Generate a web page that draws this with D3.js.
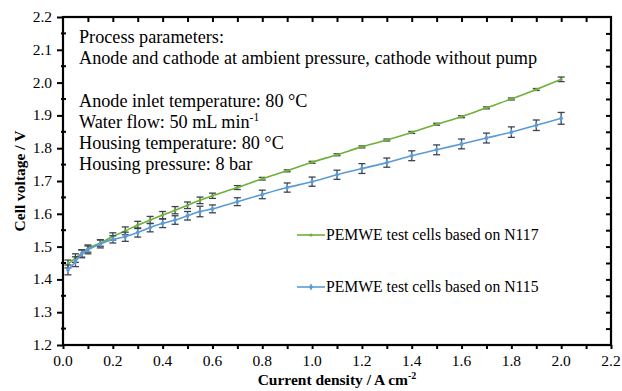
<!DOCTYPE html>
<html>
<head>
<meta charset="utf-8">
<script src="https://cdn.jsdelivr.net/npm/d3@7"></script>
</head>
<body style="margin:0">
<div id="chart"></div>
<script>
// current density (A cm-2) shared by both series
const currentDensity = [0.02, 0.05, 0.075, 0.1, 0.15, 0.2, 0.25, 0.3, 0.35, 0.4, 0.45, 0.5, 0.55, 0.6,
  0.7, 0.8, 0.9, 1.0, 1.1, 1.2, 1.3, 1.4, 1.5, 1.6, 1.7, 1.8, 1.9, 2.0];

const n117Voltage = [1.447, 1.465, 1.479, 1.494, 1.511, 1.531, 1.548, 1.566, 1.581, 1.596, 1.611, 1.626, 1.641, 1.655,
  1.680, 1.707, 1.731, 1.757, 1.780, 1.804, 1.825, 1.848, 1.873, 1.896, 1.923, 1.950, 1.979, 2.010];
const n117Error = [0.012, 0.013, 0.011, 0.011, 0.010, 0.011, 0.012, 0.011, 0.011, 0.011, 0.011, 0.010, 0.010, 0.008,
  0.006, 0.004, 0.003, 0.003, 0.003, 0.003, 0.003, 0.003, 0.003, 0.003, 0.003, 0.003, 0.003, 0.007];

const n115Voltage = [1.429, 1.454, 1.478, 1.490, 1.508, 1.522, 1.530, 1.543, 1.558, 1.571, 1.581, 1.594, 1.607, 1.615,
  1.637, 1.659, 1.680, 1.698, 1.719, 1.738, 1.756, 1.777, 1.795, 1.813, 1.831, 1.849, 1.870, 1.891];
const n115Error = [0.015, 0.015, 0.012, 0.012, 0.012, 0.011, 0.014, 0.014, 0.013, 0.013, 0.013, 0.013, 0.016, 0.012,
  0.012, 0.013, 0.014, 0.014, 0.014, 0.015, 0.014, 0.015, 0.015, 0.015, 0.015, 0.016, 0.016, 0.018];

const xTicks = [0.0, 0.2, 0.4, 0.6, 0.8, 1.0, 1.2, 1.4, 1.6, 1.8, 2.0, 2.2];
const yTicks = [1.2, 1.3, 1.4, 1.5, 1.6, 1.7, 1.8, 1.9, 2.0, 2.1, 2.2];

const seriesNames = ["PEMWE test cells based on N117", "PEMWE test cells based on N115"];
const infoLines = [
  "Process parameters:",
  "Anode and cathode at ambient pressure, cathode without pump",
  "",
  "Anode inlet temperature: 80 °C",
  "Water flow: 50 mL min|-1",
  "Housing temperature: 80 °C",
  "Housing pressure: 8 bar"
];

const width = 622, height = 391;
const marginLeft = 63, marginRight = 10, marginTop = 17, marginBottom = 46;
const green = "#6fb037", blue = "#5b9bd5", errColor = "#3d4350";
const serif = "'Liberation Serif'";

const svg = d3.select("#chart").append("svg")
  .attr("width", width).attr("height", height);

const x = d3.scaleLinear().domain([0, 2.2]).range([marginLeft, width - marginRight - 1]);
const y = d3.scaleLinear().domain([1.2, 2.2]).range([height - marginBottom, marginTop]);

const minorX = d3.range(0, 23).map(i => i / 10);
const minorY = d3.range(0, 21).map(i => 1.2 + i * 0.05);

// bottom axis
svg.append("g")
  .attr("transform", "translate(0," + y(1.2) + ")")
  .call(d3.axisBottom(x).tickValues(minorX).tickSize(4).tickFormat(""))
  .call(g => g.select(".domain").remove())
  .call(g => g.selectAll("line").attr("stroke", "#000").attr("stroke-width", 2));
svg.append("g").selectAll("text").data(xTicks).enter().append("text")
  .attr("x", d => x(d)).attr("y", y(1.2) + 21)
  .attr("text-anchor", "middle").style("font-family", serif).style("font-size", "15.5px")
  .text(d => d.toFixed(1));

// top axis (inward)
svg.append("g")
  .attr("transform", "translate(0," + y(2.2) + ")")
  .call(d3.axisTop(x).tickValues(minorX.slice(1, -1)).tickSize(-5).tickFormat(""))
  .call(g => g.select(".domain").remove())
  .call(g => g.selectAll("line").attr("stroke", "#000").attr("stroke-width", 2));

// left axis
svg.append("g")
  .attr("transform", "translate(" + x(0) + ",0)")
  .call(d3.axisLeft(y).tickValues(yTicks).tickSize(6).tickFormat(""))
  .call(g => g.select(".domain").remove())
  .call(g => g.selectAll("line").attr("stroke", "#000").attr("stroke-width", 2));
svg.append("g").selectAll("line").data(minorY.filter((d, i) => i % 2 === 1)).enter().append("line")
  .attr("x1", x(0) - 2).attr("x2", x(0) + 3)
  .attr("y1", d => y(d)).attr("y2", d => y(d))
  .attr("stroke", "#000").attr("stroke-width", 2);
svg.append("g").selectAll("text").data(yTicks).enter().append("text")
  .attr("x", x(0) - 11).attr("y", d => y(d) + 5)
  .attr("text-anchor", "end").style("font-family", serif).style("font-size", "15.5px")
  .text(d => d.toFixed(1));

// right axis (inward)
svg.append("g")
  .attr("transform", "translate(" + x(2.2) + ",0)")
  .call(d3.axisRight(y).tickValues(minorY.slice(1, -1)).tickSize(-5).tickFormat(""))
  .call(g => g.select(".domain").remove())
  .call(g => g.selectAll("line").attr("stroke", "#000").attr("stroke-width", 2));

// frame
svg.append("rect")
  .attr("x", x(0)).attr("y", y(2.2))
  .attr("width", x(2.2) - x(0)).attr("height", y(1.2) - y(2.2))
  .attr("fill", "none").attr("stroke", "#000").attr("stroke-width", 2.2);

// axis titles
const xTitle = svg.append("text")
  .attr("x", (x(0) + x(2.2)) / 2).attr("y", 385)
  .attr("text-anchor", "middle").style("font-family", serif)
  .style("font-size", "15.5px").style("font-weight", "bold");
xTitle.append("tspan").text("Current density / A cm");
xTitle.append("tspan").attr("dy", -6).style("font-size", "10px").text("-2");

svg.append("text")
  .attr("transform", "translate(25," + ((y(1.2) + y(2.2)) / 2) + ") rotate(-90)")
  .attr("text-anchor", "middle").style("font-family", serif)
  .style("font-size", "15.5px").style("font-weight", "bold")
  .text("Cell voltage / V");

// info text
const info = svg.append("g");
infoLines.forEach((line, i) => {
  if (!line) return;
  const t = info.append("text").attr("x", 79).attr("y", 43 + i * 21.2)
    .style("font-family", serif).style("font-size", "18.2px");
  const parts = line.split("|");
  t.append("tspan").text(parts[0]);
  if (parts[1]) t.append("tspan").attr("dy", -7).style("font-size", "11.5px").text(parts[1]);
});

// series
const series = [
  { name: seriesNames[0], values: n117Voltage, errors: n117Error, color: green, legendY: 235 },
  { name: seriesNames[1], values: n115Voltage, errors: n115Error, color: blue, legendY: 287 }
];

const line = d3.line()
  .x(d => x(d.x)).y(d => y(d.v))
  .curve(d3.curveCatmullRom.alpha(0.5));

series.forEach((s, k) => {
  const pts = currentDensity.map((c, i) => ({ x: c, v: s.values[i], e: s.errors[i] }));

  const eb = svg.append("g").attr("stroke", errColor).attr("stroke-width", 1.3);
  eb.selectAll(".v").data(pts).enter().append("line")
    .attr("x1", d => x(d.x)).attr("x2", d => x(d.x))
    .attr("y1", d => y(d.v - d.e)).attr("y2", d => y(d.v + d.e));
  eb.selectAll(".t").data(pts).enter().append("line")
    .attr("x1", d => x(d.x) - 3.5).attr("x2", d => x(d.x) + 3.5)
    .attr("y1", d => y(d.v + d.e)).attr("y2", d => y(d.v + d.e));
  eb.selectAll(".b").data(pts).enter().append("line")
    .attr("x1", d => x(d.x) - 3.5).attr("x2", d => x(d.x) + 3.5)
    .attr("y1", d => y(d.v - d.e)).attr("y2", d => y(d.v - d.e));

  svg.append("path").datum(pts)
    .attr("d", line).attr("fill", "none")
    .attr("stroke", s.color).attr("stroke-width", 1.6);

  const sym = d3.symbol().type(k === 0 ? d3.symbolCircle : d3.symbolDiamond).size(k === 0 ? 8 : 14);
  svg.append("g").selectAll("path").data(pts).enter().append("path")
    .attr("d", sym)
    .attr("transform", d => "translate(" + x(d.x) + "," + y(d.v) + ")")
    .attr("fill", s.color);

  // legend
  svg.append("line")
    .attr("x1", 297).attr("x2", 325).attr("y1", s.legendY).attr("y2", s.legendY)
    .attr("stroke", s.color).attr("stroke-width", 1.6);
  svg.append("path").attr("d", sym)
    .attr("transform", "translate(311," + s.legendY + ")").attr("fill", s.color);
  svg.append("text")
    .attr("x", 326).attr("y", s.legendY + 5)
    .style("font-family", serif).style("font-size", "15.7px")
    .text(s.name);
});
</script>
</body>
</html>
